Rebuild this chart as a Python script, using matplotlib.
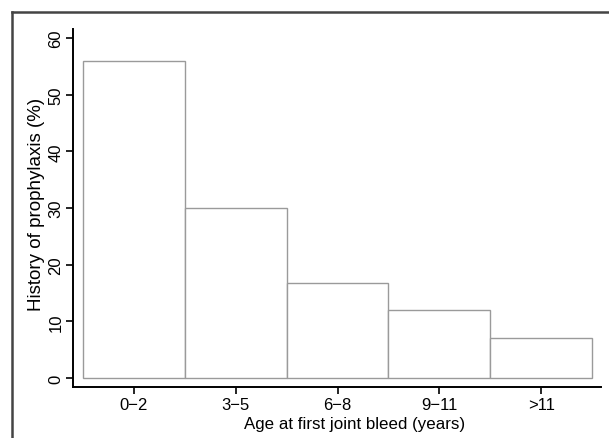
import matplotlib.pyplot as plt
from matplotlib.lines import Line2D
import numpy as np

plt.rcParams['font.family'] = ['Liberation Sans', 'DejaVu Sans']

groups = ['0\u22122', '3\u22125', '6\u22128', '9\u221211', '>11']
prophylaxis = [56, 30, 16.7, 12, 7]

fig = plt.figure(figsize=(6.09, 4.39), dpi=100)
ax = fig.add_axes([73/609, 1-388/439, (601-73)/609, (388-30)/439])

x = np.arange(1, len(groups)+1)
ax.bar(x, prophylaxis, width=1.0, color='white', edgecolor='#9a9a9a', linewidth=1.0)

ax.set_xlim(0.402, 5.588)
ax.set_ylim(-1.59, 61.6)
ax.set_xticks(x)
ax.set_xticklabels(groups)
ax.set_yticks([0, 10, 20, 30, 40, 50, 60])
for lab in ax.get_yticklabels():
    lab.set_rotation(90)
    lab.set_va('center')

for s in ['top', 'right']:
    ax.spines[s].set_visible(False)
for s in ['left', 'bottom']:
    ax.spines[s].set_linewidth(1.4)
ax.tick_params(width=1.2, length=5, labelsize=12, pad=2)
ax.set_xlabel('Age at first joint bleed (years)', fontsize=12.2, va='center')
ax.set_ylabel('History of prophylaxis (%)', fontsize=13.5, va='center')
ax.xaxis.set_label_coords(0.534, -0.1006)
ax.yaxis.set_label_coords(-0.070, 0.514)

# outer frame (left and top edges)
fig.add_artist(Line2D([12/609, 12/609], [0, 1-13/439], transform=fig.transFigure, color='#444444', lw=1.8))
fig.add_artist(Line2D([12/609, 1], [1-13/439, 1-13/439], transform=fig.transFigure, color='#444444', lw=1.8))

fig.savefig('out.png', dpi=100)
